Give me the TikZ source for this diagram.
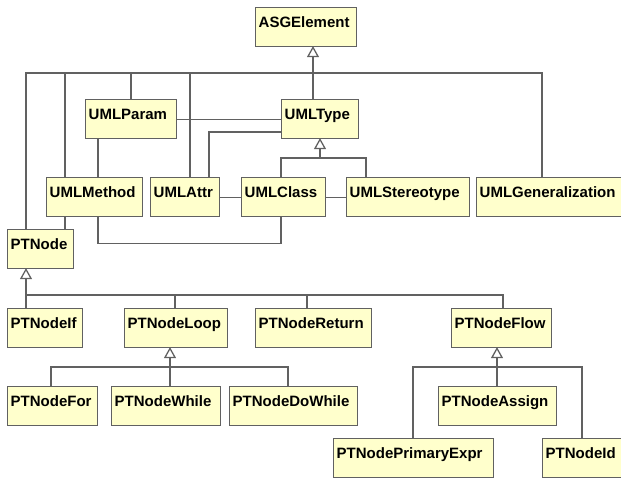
\documentclass[tikz,border=0pt]{standalone}
\usepackage{fontspec}
\setmainfont{Liberation Sans}
\definecolor{boxfill}{HTML}{FFFFCC}
\definecolor{edgegray}{HTML}{616161}
\newcommand\umlbox[5]{\node[cls] (#1) at (#2,#3) {\makebox[\dimexpr#4pt-6pt\relax][l]{#5}};}
\begin{document}
\begin{tikzpicture}[x=1pt,y=-1pt,
  cls/.style={draw=edgegray, line width=1.4pt, fill=boxfill, anchor=north west,
    inner xsep=3pt, inner ysep=0pt, text height=19.5pt, text depth=19.5pt,
    font=\fontsize{15}{18}\selectfont\bfseries},
  conn/.style={draw=edgegray, line width=1.3pt},
  tri/.style={draw=edgegray, line width=1.3pt, fill=white, line join=miter}]
\useasboundingbox (0,0) rectangle (621,479);
\clip (0,0) rectangle (621,479);
% nodes
\umlbox{ASG}{255}{7}{101}{ASGElement}
\umlbox{Param}{85}{99}{91}{UMLParam}
\umlbox{Type}{281}{99}{77}{UMLType}
\umlbox{Meth}{46}{177}{96}{UMLMethod}
\umlbox{Attr}{150}{177}{69}{UMLAttr}
\umlbox{Class}{241}{177}{84}{UMLClass}
\umlbox{Stereo}{346}{177}{123}{UMLStereotype}
\umlbox{Gen}{476}{177}{150}{UMLGeneralization}
\umlbox{PT}{7}{229}{66}{PTNode}
\umlbox{If}{7}{308}{75}{PTNodeIf}
\umlbox{Loop}{124}{308}{103}{PTNodeLoop}
\umlbox{Ret}{255}{308}{116}{PTNodeReturn}
\umlbox{Flow}{451}{308}{100}{PTNodeFlow}
\umlbox{For}{7}{386}{90}{PTNodeFor}
\umlbox{While}{111}{386}{109}{PTNodeWhile}
\umlbox{DoWhile}{229}{386}{128}{PTNodeDoWhile}
\umlbox{Assign}{438}{386}{118}{PTNodeAssign}
\umlbox{Prim}{333}{438}{160}{PTNodePrimaryExpr}
\umlbox{Id}{542}{438}{84}{PTNodeId}
% generalization to ASGElement
\coordinate (t1) at ([xshift=58pt]ASG.south west);
\coordinate (bus1) at (0,73);
\coordinate (dPT) at ([xshift=19pt]PT.north west);
\coordinate (dMeth) at ([xshift=19pt]Meth.north west);
\coordinate (dParam) at ([xshift=46pt]Param.north west);
\coordinate (dAttr) at ([xshift=40pt]Attr.north west);
\coordinate (dGen) at ([xshift=66pt]Gen.north west);
\draw[conn] ([yshift=-9pt]t1) -- (t1 |- Type.north);
\draw[conn] (dPT) -- (dPT |- bus1) -- (dGen |- bus1) -- (dGen);
\foreach \c in {dMeth,dParam,dAttr} \draw[conn] (\c) -- (\c |- bus1);
\draw[tri] (t1) -- ++(-5,9) -- ++(10,0) -- cycle;
% associations
\draw[conn] (Param.east) -- (Type.west);
\draw[conn] ([yshift=-33pt]Type.north west) -| ([xshift=59pt]Attr.north west);
\draw[conn] ([xshift=13pt]Param.south west) -- ([xshift=52pt]Meth.north west);
\draw[conn] (Attr.east) -- (Class.west);
\draw[conn] (Class.east) -- (Stereo.west);
\coordinate (mPT) at ([xshift=19pt]Meth.south west);
\draw[conn] (mPT) -- (mPT |- PT.north);
\draw[conn] ([xshift=52pt]Meth.south west) -- ++(0,26) -| ([xshift=40pt]Class.south west);
% generalization to UMLType
\coordinate (t2) at ([xshift=39pt]Type.south west);
\coordinate (bus2) at (0,158);
\coordinate (dClass) at ([xshift=40pt]Class.north west);
\coordinate (dStereo) at ([xshift=20pt]Stereo.north west);
\draw[conn] ([yshift=-9pt]t2) -- (t2 |- bus2);
\draw[conn] (dClass) -- (dClass |- bus2) -- (dStereo |- bus2) -- (dStereo);
\draw[tri] (t2) -- ++(-5,9) -- ++(10,0) -- cycle;
% generalization to PTNode
\coordinate (t3) at ([xshift=19pt]PT.south west);
\coordinate (bus3) at (0,295);
\coordinate (dIf) at ([xshift=19pt]If.north west);
\coordinate (dLoop) at ([xshift=51pt]Loop.north west);
\coordinate (dRet) at ([xshift=52pt]Ret.north west);
\coordinate (dFlow) at ([xshift=52pt]Flow.north west);
\draw[conn] ([yshift=-9pt]t3) -- (dIf);
\draw[conn] (dIf |- bus3) -- (dFlow |- bus3) -- (dFlow);
\foreach \c in {dLoop,dRet} \draw[conn] (\c) -- (\c |- bus3);
\draw[tri] (t3) -- ++(-5,9) -- ++(10,0) -- cycle;
% generalization to PTNodeLoop
\coordinate (t4) at ([xshift=46pt]Loop.south west);
\coordinate (bus4) at (0,367);
\coordinate (dFor) at ([xshift=44pt]For.north west);
\coordinate (dWhile) at ([xshift=59pt]While.north west);
\coordinate (dDo) at ([xshift=59pt]DoWhile.north west);
\draw[conn] ([yshift=-9pt]t4) -- (t4 |- bus4);
\draw[conn] (dFor) -- (dFor |- bus4) -- (dDo |- bus4) -- (dDo);
\draw[conn] (dWhile) -- (dWhile |- bus4);
\draw[tri] (t4) -- ++(-5,9) -- ++(10,0) -- cycle;
% generalization to PTNodeFlow
\coordinate (t5) at ([xshift=46pt]Flow.south west);
\coordinate (dPrim) at ([xshift=80pt]Prim.north west);
\coordinate (dAssign) at ([xshift=59pt]Assign.north west);
\coordinate (dId) at ([xshift=40pt]Id.north west);
\draw[conn] ([yshift=-9pt]t5) -- (dAssign);
\draw[conn] (dPrim) -- (dPrim |- bus4) -- (dId |- bus4) -- (dId);
\draw[tri] (t5) -- ++(-5,9) -- ++(10,0) -- cycle;
\end{tikzpicture}
\end{document}
